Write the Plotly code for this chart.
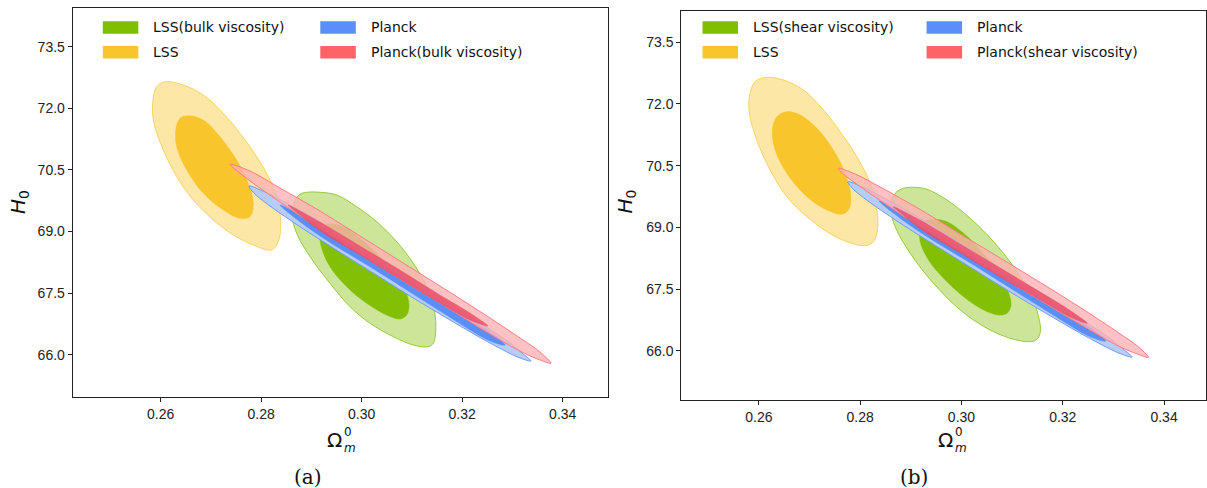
import plotly.graph_objects as go

W, H = 1207, 488

# ---------------- data ----------------
x_ticks = [0.26, 0.28, 0.30, 0.32, 0.34]
x_tick_text = ["0.26", "0.28", "0.30", "0.32", "0.34"]
y_ticks = [66.0, 67.5, 69.0, 70.5, 72.0, 73.5]
y_tick_text = ["66.0", "67.5", "69.0", "70.5", "72.0", "73.5"]

legend_a = ["LSS(bulk viscosity)", "LSS", "Planck", "Planck(bulk viscosity)"]
legend_b = ["LSS(shear viscosity)", "LSS", "Planck", "Planck(shear viscosity)"]
panel_labels = ["(a)", "(b)"]

# Panel (a) contours: (Omega_m^0, H0) vertices
lss2_a_x = [0.26086, 0.26450, 0.26848, 0.27246, 0.27578, 0.27910, 0.28175, 0.28340, 0.28388, 0.28340,
            0.28209, 0.27843, 0.27445, 0.27047, 0.26649, 0.26318, 0.26052, 0.25867, 0.25841, 0.25920]
lss2_a_y = [72.648, 72.567, 72.324, 71.878, 71.391, 70.821, 70.254, 69.687, 69.117, 68.752,
            68.550, 68.671, 68.915, 69.280, 69.767, 70.334, 70.985, 71.635, 72.122, 72.526]
lss1_a_x = [0.26549, 0.26848, 0.27180, 0.27512, 0.27743, 0.27843, 0.27777, 0.27578, 0.27246, 0.26848,
            0.26517, 0.26318, 0.26304, 0.26384]
lss1_a_y = [71.820, 71.715, 71.308, 70.741, 70.174, 69.687, 69.360, 69.321, 69.524, 69.930,
            70.498, 71.065, 71.513, 71.757]
visc2_a_x = [0.28905, 0.29170, 0.29502, 0.29900, 0.30298, 0.30696, 0.31027, 0.31293, 0.31445, 0.31473,
             0.31425, 0.31325, 0.31027, 0.30629, 0.30165, 0.29767, 0.29369, 0.28971, 0.28706, 0.28607,
             0.28673, 0.28772]
visc2_a_y = [69.955, 69.955, 69.889, 69.604, 69.239, 68.752, 68.226, 67.656, 67.089, 66.602,
             66.278, 66.195, 66.236, 66.438, 66.765, 67.169, 67.739, 68.387, 68.956, 69.443,
             69.767, 69.906]
visc1_a_x = [0.29369, 0.29634, 0.29966, 0.30298, 0.30629, 0.30862, 0.30941, 0.30895, 0.30762, 0.30497,
             0.30099, 0.29701, 0.29369, 0.29204, 0.29170, 0.29236]
visc1_a_y = [69.183, 69.117, 68.834, 68.469, 67.982, 67.575, 67.210, 66.967, 66.869, 66.967,
             67.252, 67.656, 68.143, 68.591, 68.956, 69.134]
planck2_x = [0.27757, 0.28076, 0.28573, 0.29170, 0.29966, 0.30762, 0.31558, 0.32354, 0.32951, 0.33190,
             0.33369, 0.33150, 0.32553, 0.31757, 0.30961, 0.30165, 0.29369, 0.28573, 0.28016, 0.27817]
planck2_y = [70.108, 69.962, 69.645, 69.231, 68.623, 68.014, 67.405, 66.772, 66.285, 66.041,
             65.847, 65.920, 66.285, 66.845, 67.430, 68.038, 68.647, 69.280, 69.767, 69.986]
planck1_x = [0.28374, 0.29170, 0.30364, 0.31558, 0.32553, 0.32851, 0.32553, 0.31558, 0.30364, 0.29170, 0.28673]
planck1_y = [69.645, 69.134, 68.233, 67.332, 66.553, 66.236, 66.334, 67.064, 67.989, 68.891, 69.329]
pvisc2_a_x = [0.27379, 0.27777, 0.28374, 0.29170, 0.29966, 0.30762, 0.31558, 0.32354, 0.33150, 0.33548,
              0.33767, 0.33548, 0.33150, 0.32354, 0.31558, 0.30762, 0.29966, 0.29170, 0.28374, 0.27777,
              0.27498]
pvisc2_a_y = [70.636, 70.473, 70.059, 69.499, 68.891, 68.282, 67.673, 67.052, 66.407, 66.066,
              65.791, 65.871, 66.090, 66.650, 67.259, 67.843, 68.452, 69.061, 69.718, 70.230,
              70.498]
pvisc1_a_x = [0.28533, 0.29170, 0.29966, 0.30762, 0.31558, 0.32155, 0.32513, 0.32155, 0.31558, 0.30762,
              0.29966, 0.29170, 0.28772]
pvisc1_a_y = [69.645, 69.231, 68.647, 68.063, 67.454, 67.016, 66.699, 66.845, 67.259, 67.843,
              68.428, 69.012, 69.402]

# Panel (b) contours
lss2_b_x = [0.26156, 0.26484, 0.26879, 0.27275, 0.27605, 0.27935, 0.28197, 0.28330, 0.28342, 0.28263,
            0.28099, 0.27737, 0.27342, 0.26947, 0.26551, 0.26221, 0.25959, 0.25812, 0.25812, 0.25925]
lss2_b_y = [72.649, 72.583, 72.340, 71.854, 71.326, 70.718, 70.071, 69.422, 68.935, 68.651,
            68.553, 68.651, 68.894, 69.259, 69.745, 70.394, 71.124, 71.773, 72.177, 72.542]
lss1_b_x = [0.26551, 0.26814, 0.27144, 0.27472, 0.27703, 0.27816, 0.27769, 0.27638, 0.27342, 0.26947,
            0.26551, 0.26320, 0.26267, 0.26354]
lss1_b_y = [71.812, 71.732, 71.408, 70.881, 70.314, 69.745, 69.422, 69.317, 69.422, 69.745,
            70.314, 70.881, 71.367, 71.691]
visc2_b_x = [0.29053, 0.29318, 0.29713, 0.30173, 0.30634, 0.31029, 0.31359, 0.31523, 0.31557, 0.31491,
             0.31359, 0.30964, 0.30503, 0.29976, 0.29448, 0.28988, 0.28691, 0.28593, 0.28691, 0.28855]
visc2_b_y = [69.974, 69.925, 69.665, 69.220, 68.651, 68.043, 67.396, 66.827, 66.462, 66.277,
             66.219, 66.301, 66.544, 66.990, 67.639, 68.368, 69.015, 69.502, 69.828, 69.949]
visc1_b_x = [0.29448, 0.29713, 0.30041, 0.30371, 0.30701, 0.30910, 0.30978, 0.30899, 0.30733, 0.30436,
             0.30041, 0.29646, 0.29349, 0.29185, 0.29185, 0.29284]
visc1_b_y = [69.195, 69.137, 68.855, 68.449, 67.921, 67.476, 67.111, 66.909, 66.868, 66.990,
             67.313, 67.760, 68.206, 68.651, 68.976, 69.161]
pvisc2_b_x = [0.27565, 0.27901, 0.28395, 0.29185, 0.29976, 0.30766, 0.31557, 0.32347, 0.33137, 0.33473,
              0.33691, 0.33473, 0.33137, 0.32347, 0.31557, 0.30766, 0.29976, 0.29185, 0.28395, 0.27901,
              0.27664]
pvisc2_b_y = [70.436, 70.297, 69.981, 69.434, 68.838, 68.254, 67.658, 67.050, 66.406, 66.114,
              65.839, 65.919, 66.090, 66.637, 67.221, 67.816, 68.412, 69.008, 69.653, 70.078,
              70.297]
pvisc1_b_x = [0.28652, 0.29185, 0.29976, 0.30766, 0.31557, 0.32149, 0.32485, 0.32149, 0.31557, 0.30766,
              0.29976, 0.29185, 0.28849]
pvisc1_b_y = [69.502, 69.178, 68.595, 68.011, 67.427, 66.977, 66.666, 66.819, 67.233, 67.792,
              68.376, 68.960, 69.300]

# ---------------- styles ----------------
C_LSSV = {"f2": "rgba(128,190,0,0.40)", "l2": "rgb(150,202,60)", "f1": "rgba(128,190,0,0.97)", "leg": "rgb(128,190,0)"}
C_LSS = {"f2": "rgba(249,197,45,0.42)", "l2": "rgb(250,210,100)", "f1": "rgb(249,197,45)", "leg": "rgb(249,197,45)"}
C_PL = {"f2": "rgb(183,205,248)", "l2": "rgb(110,155,240)", "f1": "rgb(90,142,250)", "leg": "rgb(90,142,250)"}
C_PV = {"f2": "rgba(255,175,178,0.78)", "l2": "rgb(255,125,130)", "f1": "rgba(235,72,98,0.80)", "leg": "rgb(255,99,104)"}

fig = go.Figure()


def contour(x, y, fill, line, lw, xa, ya):
    fig.add_trace(go.Scatter(
        x=x + [x[0]], y=y + [y[0]], xaxis=xa, yaxis=ya, mode="lines",
        line=dict(shape="spline", smoothing=1.0, color=line, width=lw),
        fill="toself", fillcolor=fill, hoverinfo="skip", showlegend=False))


def panel(xa, ya, lss2, lss1, v2, v1, p2, p1, pv2, pv1):
    contour(*lss2, C_LSS["f2"], C_LSS["l2"], 1.0, xa, ya)
    contour(*lss1, C_LSS["f1"], C_LSS["f1"], 0.5, xa, ya)
    contour(*v2, C_LSSV["f2"], C_LSSV["l2"], 1.0, xa, ya)
    contour(*v1, C_LSSV["f1"], C_LSSV["f1"], 0.5, xa, ya)
    contour(*p2, C_PL["f2"], C_PL["l2"], 1.0, xa, ya)
    contour(*p1, C_PL["f1"], C_PL["f1"], 0.5, xa, ya)
    contour(*pv2, C_PV["f2"], C_PV["l2"], 1.0, xa, ya)
    contour(*pv1, C_PV["f1"], "rgba(235,72,98,0.6)", 0.5, xa, ya)


panel("x", "y", (lss2_a_x, lss2_a_y), (lss1_a_x, lss1_a_y), (visc2_a_x, visc2_a_y), (visc1_a_x, visc1_a_y),
      (planck2_x, planck2_y), (planck1_x, planck1_y), (pvisc2_a_x, pvisc2_a_y), (pvisc1_a_x, pvisc1_a_y))
panel("x2", "y2", (lss2_b_x, lss2_b_y), (lss1_b_x, lss1_b_y), (visc2_b_x, visc2_b_y), (visc1_b_x, visc1_b_y),
      (planck2_x, planck2_y), (planck1_x, planck1_y), (pvisc2_b_x, pvisc2_b_y), (pvisc1_b_x, pvisc1_b_y))

tickfont = dict(family="Liberation Sans, Arial, sans-serif", size=14, color="#222")


def xaxis(domain, rng, anchor):
    return dict(domain=domain, range=rng, anchor=anchor, tickvals=x_ticks, ticktext=x_tick_text,
                showline=True, mirror=True, linecolor="#222", linewidth=1.1, ticks="outside",
                ticklen=4, tickcolor="#222", showgrid=False, zeroline=False, tickfont=tickfont)


def yaxis(domain, rng, anchor):
    return dict(domain=domain, range=rng, anchor=anchor, tickvals=y_ticks, ticktext=y_tick_text,
                showline=True, mirror=True, linecolor="#222", linewidth=1.1, ticks="outside",
                ticklen=4, tickcolor="#222", showgrid=False, zeroline=False, tickfont=tickfont)


def px(xp):
    return xp / W


def py(yp):
    return 1 - yp / H


# panel frames in pixels
A_L, A_R, A_T, A_B = 72.7, 608.0, 8.3, 397.3
B_L, B_R, B_T, B_B = 681.3, 1205.5, 10.7, 400.0

annotations = []
shapes = []

legend_colors = [C_LSSV["leg"], C_LSS["leg"], C_PL["leg"], C_PV["leg"]]
leg_font = dict(family="DejaVu Sans, sans-serif", size=14, color="#111")


def add_legend(labels, col_x, text_x):
    rows = [27.5, 52.3]
    for i, lab in enumerate(labels):
        c, r = divmod(i, 2)
        x0 = col_x[c]
        yc = rows[r]
        shapes.append(dict(type="rect", xref="paper", yref="paper", x0=px(x0), x1=px(x0 + 35.5),
                           y0=py(yc - 6.3), y1=py(yc + 6.3), fillcolor=legend_colors[i], line=dict(width=0)))
        annotations.append(dict(text=lab, x=px(text_x[c]), y=py(yc), xref="paper", yref="paper",
                                xanchor="left", yanchor="middle", showarrow=False, font=leg_font))


add_legend(legend_a, [102.8, 320.3], [151.0, 368.5])
add_legend(legend_b, [702.5, 926.6], [751.0, 975.0])

math_font = dict(family="DejaVu Sans, sans-serif", size=20, color="#111")
small_font = dict(family="DejaVu Sans, sans-serif", size=12, color="#111")
serif_font = dict(family="DejaVu Serif, serif", size=20, color="#111")


def titles(cx, hx, hy, label, lx):
    annotations.append(dict(text="Ω", x=px(cx), y=py(439.5), xref="paper", yref="paper",
                            xanchor="center", yanchor="middle", showarrow=False, font=math_font,
                            borderpad=0))
    annotations.append(dict(text="0<br><i>m</i>", x=px(cx + 8.5), y=py(440.0), xref="paper", yref="paper",
                            xanchor="left", yanchor="middle", align="left", showarrow=False,
                            font=small_font, borderpad=0))
    annotations.append(dict(text="<i>H</i><sub>0</sub>", x=px(hx), y=py(hy), xref="paper", yref="paper",
                            xanchor="center", yanchor="middle", showarrow=False, textangle=-90,
                            font=math_font))
    annotations.append(dict(text=label, x=px(lx), y=py(477), xref="paper", yref="paper",
                            xanchor="center", yanchor="middle", showarrow=False, font=serif_font))


titles(334.5, 19.0, 202.0, panel_labels[0], 308.0)
titles(945.5, 625.5, 202.0, panel_labels[1], 914.0)

fig.update_layout(
    width=W, height=H, margin=dict(l=0, r=0, t=0, b=0),
    paper_bgcolor="white", plot_bgcolor="white", showlegend=False,
    xaxis=xaxis([px(A_L), px(A_R)], [0.24249, 0.34901], "y"),
    yaxis=yaxis([py(A_B), py(A_T)], [64.963, 74.435], "x"),
    xaxis2=xaxis([px(B_L), px(B_R)], [0.24468, 0.34818], "y2"),
    yaxis2=yaxis([py(B_B), py(B_T)], [64.801, 74.268], "x2"),
    annotations=annotations, shapes=shapes,
)

fig.write_html("out.html")
